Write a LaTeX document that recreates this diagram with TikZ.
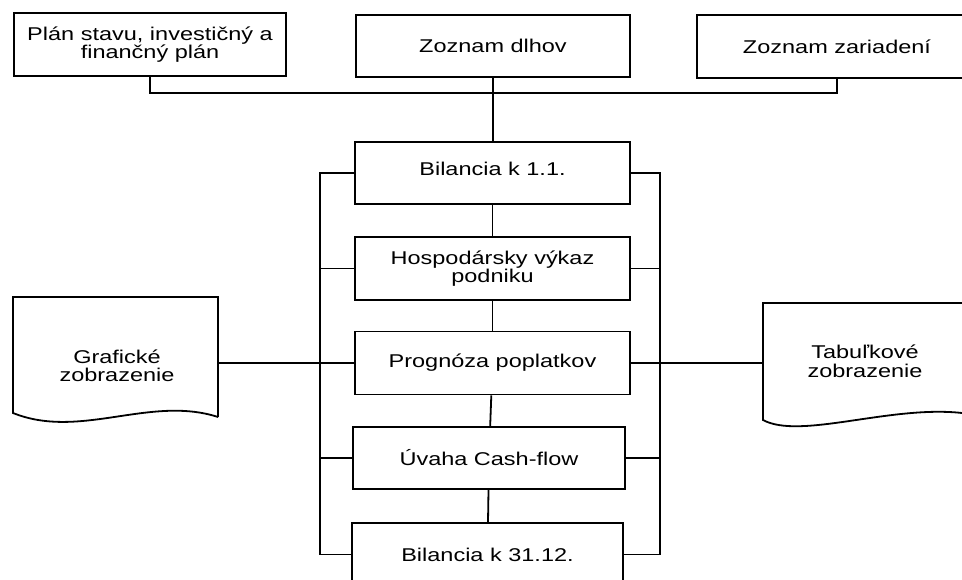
\documentclass[tikz,border=0pt]{standalone}
\usepackage{fontspec}
\setmainfont[FakeStretch=1.27]{Liberation Sans}
\newcommand\diafont{\fontsize{18.5}{18.5}\selectfont}
\begin{document}
\begin{tikzpicture}[x=1pt,y=-1pt, line width=1.8pt,
  box/.style={draw, minimum width=275pt, minimum height=62pt, inner sep=0pt, align=center, font=\diafont},
  lbl/.style={align=center, inner sep=0pt, font=\diafont}]
\useasboundingbox (0,0) rectangle (962,580);
\clip (0,0) rectangle (962,580);
% top boxes
\node[box, minimum width=272pt, minimum height=63pt] (plan) at (150,44.5) {Plán stavu, investičný a\\finančný plán};
\node[box, minimum width=274pt] (dlhov) at (493,46) {Zoznam dlhov};
\node[box, minimum width=280pt, minimum height=63pt] (zar) at (837,46.5) {Zoznam zariadení};
% central column
\node[box] (bil1) at (492.5,173) {\raisebox{4pt}[\height][\depth]{Bilancia k 1.1.}};
\node[box, minimum height=63pt] (hosp) at (492.5,268.5) {Hospodársky výkaz\\podniku};
\node[box, minimum height=63pt] (prog) at (492.5,363) {Prognóza poplatkov};
\node[box, minimum width=272pt] (uvaha) at (489,458) {Úvaha Cash-flow};
\node[box, minimum width=271pt, minimum height=63pt] (bil2) at (487.5,554.5) {Bilancia k 31.12.};
% document shapes
\draw (218,417) -- (218,297) -- (13,297) -- (13,413) .. controls (80,440) and (150,395) .. (218,417);
\node[lbl] (graf) at (117,366) {Grafické\\zobrazenie};
\draw (990,303) -- (763,303) -- (763,420) .. controls (800,440) and (890,405) .. (962,413) -- (990,408);
\node[lbl] (tab) at (865,361.5) {Tabuľkové\\zobrazenie};
% coordinates
\coordinate (top) at (493,93);
\coordinate (L) at (320,0);
\coordinate (R) at (660,0);
\coordinate (gR) at (218,362);
\coordinate (tL) at (763,364);
% top connectors
\draw (plan.south) |- (top) -| (zar.south);
\draw (dlhov.south) -- (dlhov.south |- bil1.north);
% central chain
\draw (bil1) -- (hosp);
\draw (hosp) -- (prog);
\draw (prog) -- (uvaha);
\draw (uvaha) -- (bil2);
% left bus
\draw (bil1.west) -- (bil1.west -| L) -- (bil2.west -| L) -- (bil2.west);
\draw (hosp.west) -- (hosp.west -| L);
\draw (uvaha.west) -- (uvaha.west -| L);
\draw (prog.west) -- (prog.west -| gR);
% right bus
\draw (bil1.east) -- (bil1.east -| R) -- (bil2.east -| R) -- (bil2.east);
\draw (hosp.east) -- (hosp.east -| R);
\draw (uvaha.east) -- (uvaha.east -| R);
\draw (prog.east) -- (prog.east -| tL);
\end{tikzpicture}
\end{document}
